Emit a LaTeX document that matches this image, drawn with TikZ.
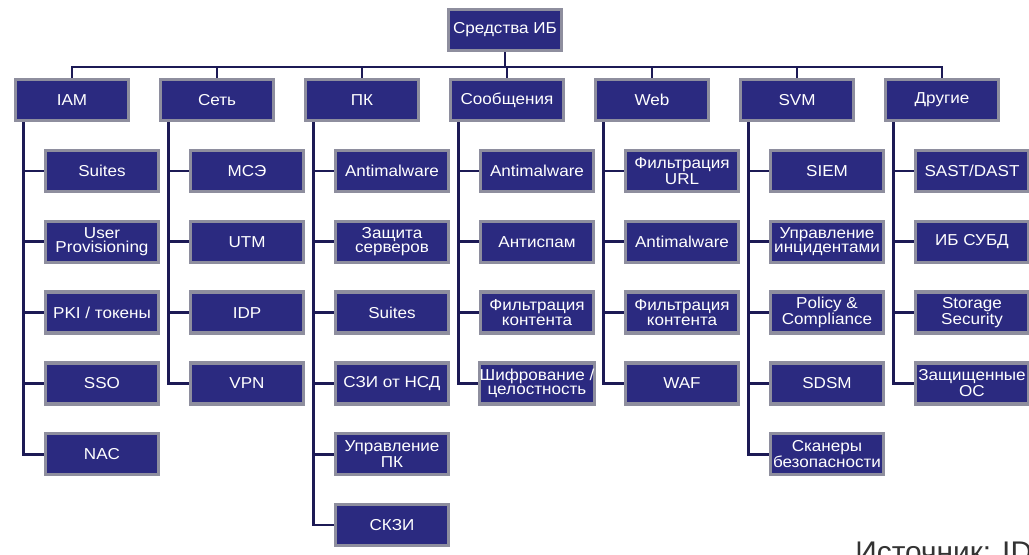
\documentclass[tikz,border=0pt]{standalone}
\usepackage{fontspec}
\setmainfont{Liberation Sans}
\newfontfamily\boxfont[FakeStretch=1.08]{Liberation Sans}
\usetikzlibrary{shadows}
\definecolor{boxblue}{HTML}{2B2A80}
\definecolor{boxrim}{HTML}{8E8E9E}
\definecolor{linkblue}{HTML}{1C1A55}
\tikzset{
  ibbox/.style={draw=boxrim, line width=2pt, fill=boxblue, text=white,
    minimum width=2.26cm, minimum height=0.82cm, inner sep=0pt, align=center,
    font=\boxfont\fontsize{9}{8}\selectfont,
    drop shadow={shadow xshift=0.6pt, shadow yshift=-0.8pt, opacity=0.35, fill=gray}},
  link/.style={draw=linkblue, line width=1.7pt}
}
\begin{document}
\begin{tikzpicture}[x=0.02cm, y=-0.02cm]
\useasboundingbox (0,0) rectangle (1029,555);
\node[ibbox] (root) at (505,30) {Средства ИБ};
\coordinate (bus) at (0,67);
% groups and their items
\foreach \head/\kids [count=\i] in {
  IAM/{Suites, User\\Provisioning, PKI / токены, SSO, NAC},
  Сеть/{МСЭ, UTM, IDP, VPN},
  ПК/{Antimalware, Защита\\серверов, Suites, СЗИ от НСД, Управление\\ПК, СКЗИ},
  Сообщения/{Antimalware, Антиспам, Фильтрация\\контента, Шифрование /\\целостность},
  Web/{Фильтрация\\URL, Antimalware, Фильтрация\\контента, WAF},
  SVM/{SIEM, Управление\\инцидентами, Policy \&\\Compliance, SDSM, Сканеры\\безопасности},
  Другие/{SAST/DAST, ИБ СУБД, Storage\\Security, Защищенные\\ОС}}{
\node[ibbox] (p\i) at ({72+145*(\i-1)},100) {\head};
\draw[link] (root.south) |- (p\i.north |- bus) -- (p\i.north);
\foreach \kid [count=\k] in \kids {
\node[ibbox] (c\i-\k) at ({102+145*(\i-1)},{171+70.8*(\k-1)}) {\kid};
\draw[link] ([xshift=0.19cm]p\i.south west) |- (c\i-\k.west);
}
}
\node[anchor=base west, inner sep=0pt, font=\fontsize{17}{20}\selectfont, text=black!80] (src) at (855,562) {Источник: ID};
\end{tikzpicture}
\end{document}
